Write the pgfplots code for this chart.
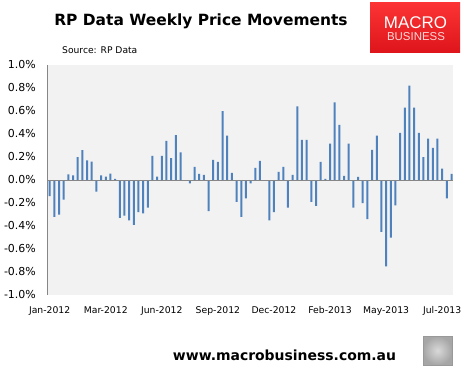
\documentclass[border=0pt]{standalone}
\usepackage{fontspec}
\setmainfont{DejaVu Sans}
\newfontfamily\libsans{Liberation Sans}
\usepackage{pgfplots}
\pgfplotsset{compat=1.18}
\definecolor{barblue}{HTML}{4F81BD}
\definecolor{plotbg}{HTML}{F2F2F2}
\definecolor{axgray}{HTML}{868686}
\definecolor{logotop}{RGB}{252,52,52}
\definecolor{logobot}{RGB}{222,22,28}
\begin{document}
\begin{tikzpicture}[x=1bp,y=1bp]
\useasboundingbox (-48,-76) rectangle (418,295);
\begin{axis}[
  at={(0,0)}, anchor=south west, scale only axis,
  width=405bp, height=230bp,
  xmin=-0.36, xmax=86.32, ymin=-1, ymax=1,
  axis background/.style={fill=plotbg},
  axis line style={draw=none},
  major tick length=0pt,
  xtick={0,12,24,36,48,60,72,84},
  xticklabels={Jan-2012,Mar-2012,Jun-2012,Sep-2012,Dec-2012,Feb-2013,May-2013,Jul-2013},
  ytick={-1,-0.8,-0.6,-0.4,-0.2,0,0.2,0.4,0.6,0.8,1},
  yticklabels={-1.0\%,-0.8\%,-0.6\%,-0.4\%,-0.2\%,0.0\%,0.2\%,0.4\%,0.6\%,0.8\%,1.0\%},
  xticklabel style={font=\fontsize{9.3}{10}\selectfont, inner sep=0pt, anchor=north, text height=6.8bp, text depth=0pt},
  xticklabel shift=11bp,
  yticklabel style={font=\fontsize{11}{12}\selectfont, inner sep=0pt, anchor=east},
  yticklabel shift=12bp,
  clip=false,
]
\addplot[ybar, bar width=2bp, fill=barblue, draw=none] coordinates {
(0,-0.14) (1,-0.32) (2,-0.30) (3,-0.17) (4,0.05) (5,0.04) (6,0.20) (7,0.26) (8,0.17) (9,0.16)
(10,-0.10) (11,0.04) (12,0.03) (13,0.055) (14,0.01) (15,-0.33) (16,-0.31) (17,-0.35) (18,-0.39) (19,-0.28)
(20,-0.29) (21,-0.24) (22,0.21) (23,0.03) (24,0.21) (25,0.34) (26,0.19) (27,0.39) (28,0.24) (29,0)
(30,-0.03) (31,0.115) (32,0.053) (33,0.044) (34,-0.27) (35,0.175) (36,0.157) (37,0.60) (38,0.385) (39,0.061)
(40,-0.19) (41,-0.32) (42,-0.16) (43,-0.03) (44,0.105) (45,0.166) (46,0) (47,-0.35) (48,-0.28) (49,0.07)
(50,0.114) (51,-0.24) (52,0.044) (53,0.64) (54,0.35) (55,0.35) (56,-0.19) (57,-0.224) (58,0.157) (59,0.01)
(60,0.316) (61,0.675) (62,0.48) (63,0.036) (64,0.316) (65,-0.24) (66,0.028) (67,-0.20) (68,-0.34) (69,0.263)
(70,0.386) (71,-0.45) (72,-0.75) (73,-0.50) (74,-0.22) (75,0.41) (76,0.63) (77,0.82) (78,0.63) (79,0.41)
(80,0.20) (81,0.36) (82,0.28) (83,0.36) (84,0.10) (85,-0.16) (86,0.053)
};
\draw[axgray, line width=1bp] (rel axis cs:0,0.5) -- (rel axis cs:1,0.5);
\draw[axgray, line width=1bp] (rel axis cs:0,0) -- (rel axis cs:0,1);
\end{axis}
% title
\node[anchor=base, inner sep=0pt, font=\fontsize{15.5}{17}\selectfont\bfseries] at (153,270) {RP Data Weekly Price Movements};
\node[anchor=base west, inner sep=0pt, font=\fontsize{9.2}{10}\selectfont] at (14,242) {Source: RP Data};
% logo
\shade[top color=logotop, bottom color=logobot] (322,243) rectangle (412,293);
\node[anchor=base, inner sep=0pt, text=white, font=\libsans\fontsize{17}{18}\selectfont] at (367.5,267) {MACRO};
\node[anchor=base, inner sep=0pt, text=white!85!red, font=\libsans\fontsize{11.5}{12}\selectfont] at (368,255) {BUSINESS};
% footer
\node[anchor=base, inner sep=0pt, font=\fontsize{14}{15}\selectfont\bfseries] at (236.5,-65) {www.macrobusiness.com.au};
% wolf icon placeholder
\shade[inner color=gray!30, outer color=gray!70, draw=gray!80, line width=1bp] (375,-70) rectangle (404,-41);
\end{tikzpicture}
\end{document}
